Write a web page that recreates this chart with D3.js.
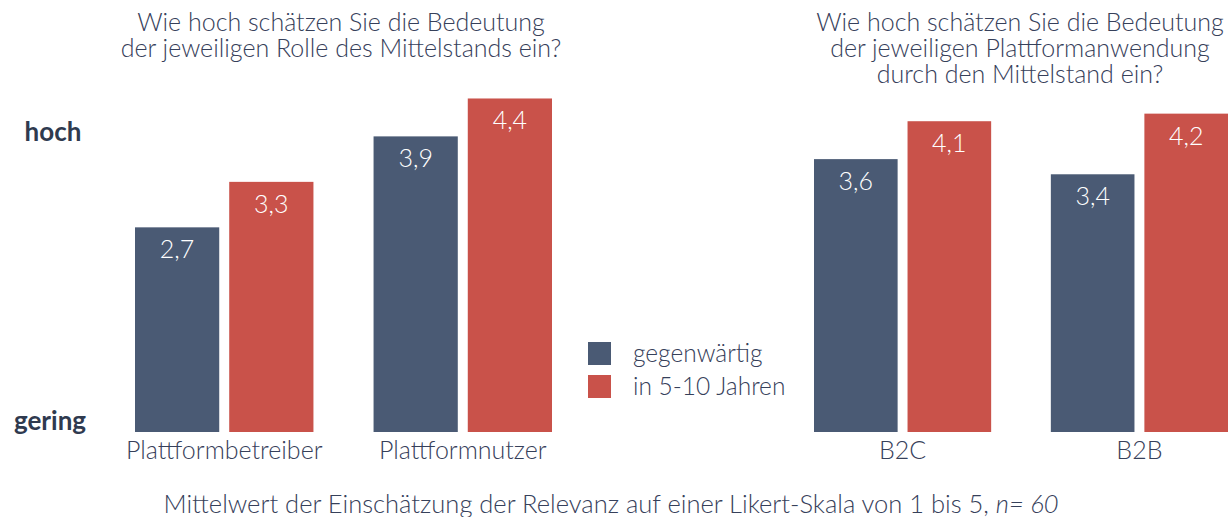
<!DOCTYPE html>
<html>
<head>
<meta charset="utf-8">
<script src="https://cdn.jsdelivr.net/npm/d3@7"></script>
<style>
  body { margin: 0; background: #fff; }
  svg { display: block; font-family: Lato, "Open Sans", sans-serif; }
</style>
</head>
<body>
<div class="vis"></div>
<script>
// chart data
const SERIES = ["gegenwärtig", "in 5-10 Jahren"];
const LEFT_CATS = ["Plattformbetreiber", "Plattformnutzer"];
const LEFT_NOW = [2.7, 3.9];
const LEFT_FUTURE = [3.3, 4.4];
const RIGHT_CATS = ["B2C", "B2B"];
const RIGHT_NOW = [3.6, 3.4];
const RIGHT_FUTURE = [4.1, 4.2];
const Y_LABELS = ["gering", "hoch"];

const LEFT_TITLE = ["Wie hoch schätzen Sie die Bedeutung", "der jeweiligen Rolle des Mittelstands ein?"];
const RIGHT_TITLE = ["Wie hoch schätzen Sie die Bedeutung", "der jeweiligen Plattformanwendung", "durch den Mittelstand ein?"];

// frame
const FRAME_WIDTH = 1230;
const FRAME_HEIGHT = 517;
const BASE = 432;

const COLORS = ["#4a5a74", "#c9524a"];
const TEXT = "#36405a";

const FRAME = d3.select(".vis")
  .append("svg")
    .attr("width", FRAME_WIDTH)
    .attr("height", FRAME_HEIGHT);

const Y_SCALE = d3.scaleLinear()
  .domain([0, 5])
  .range([BASE, BASE - 5 * 75.8]);

const COLOR = d3.scaleOrdinal().domain(SERIES).range(COLORS);

function fmt(v) { return d3.format(".1f")(v).replace(".", ","); }

function panel(cats, now, future, range, title, titleX) {
  const rows = cats.map((c, i) => ({cat: c, vals: [now[i], future[i]]}));

  const X0 = d3.scaleBand().domain(cats).range(range).paddingInner(0.252);
  const X1 = d3.scaleBand().domain(SERIES).range([0, X0.bandwidth()]).paddingInner(0.106);

  const g = FRAME.append("g");

  const groups = g.selectAll(".grp")
    .data(rows)
    .enter().append("g")
      .attr("transform", (d) => "translate(" + X0(d.cat) + ",0)");

  const cells = groups.selectAll(".cell")
    .data((d) => d.vals.map((v, j) => ({s: SERIES[j], v: v})))
    .enter().append("g");

  cells.append("rect")
    .attr("x", (d) => X1(d.s))
    .attr("y", (d) => Y_SCALE(d.v))
    .attr("width", X1.bandwidth())
    .attr("height", (d) => Y_SCALE(0) - Y_SCALE(d.v))
    .attr("fill", (d) => COLOR(d.s));

  cells.append("text")
    .attr("x", (d) => X1(d.s) + X1.bandwidth() / 2)
    .attr("y", (d) => Y_SCALE(d.v) + 31)
    .attr("text-anchor", "middle")
    .attr("fill", "#fff")
    .attr("font-size", "25px")
    .attr("font-weight", 300)
    .text((d) => fmt(d.v));

  // category axis
  const axis = g.append("g")
    .attr("transform", "translate(0," + BASE + ")")
    .call(d3.axisBottom(X0).tickSize(0).tickPadding(0));
  axis.select(".domain").remove();
  axis.selectAll("text")
    .attr("dy", null)
    .attr("y", 27)
    .attr("font-size", "25px")
    .attr("font-family", "Lato, sans-serif")
    .attr("font-weight", 300)
    .attr("fill", TEXT);

  // title, one text per line
  g.selectAll(".title")
    .data(title)
    .enter().append("text")
      .attr("x", titleX)
      .attr("y", (d, i) => 31 + i * 26)
      .attr("text-anchor", "middle")
      .attr("font-size", "25px")
      .attr("font-weight", 300)
      .attr("fill", TEXT)
      .text((d) => d);
}

panel(LEFT_CATS, LEFT_NOW, LEFT_FUTURE, [135, 552], LEFT_TITLE, 341);
panel(RIGHT_CATS, RIGHT_NOW, RIGHT_FUTURE, [814, 1228], RIGHT_TITLE, 1020);

// y labels
FRAME.selectAll(".ylab")
  .data(Y_LABELS)
  .enter().append("text")
    .attr("x", (d, i) => i === 0 ? 50 : 53)
    .attr("y", (d, i) => i === 0 ? 430 : 141)
    .attr("text-anchor", "middle")
    .attr("font-size", "26px")
    .attr("font-weight", 700)
    .attr("fill", "#2f3a4f")
    .text((d) => d);

// legend
const LEG = FRAME.append("g").attr("transform", "translate(588,342)");
const items = LEG.selectAll(".item")
  .data(SERIES)
  .enter().append("g")
    .attr("transform", (d, i) => "translate(0," + i * 33 + ")");
items.append("rect")
  .attr("width", 23).attr("height", 23)
  .attr("fill", (d) => COLOR(d));
items.append("text")
  .attr("x", 45).attr("y", 20)
  .attr("font-size", "24.5px")
  .attr("font-weight", 300)
  .attr("fill", TEXT)
  .text((d) => d);

// footnote
const foot = FRAME.append("text")
  .attr("x", 611).attr("y", 513)
  .attr("text-anchor", "middle")
  .attr("font-size", "25.5px")
  .attr("font-weight", 300)
  .attr("fill", TEXT);
foot.append("tspan").text("Mittelwert der Einschätzung der Relevanz auf einer Likert-Skala von 1 bis 5, ");
foot.append("tspan").attr("font-style", "italic").text("n= 60");
</script>
</body>
</html>
